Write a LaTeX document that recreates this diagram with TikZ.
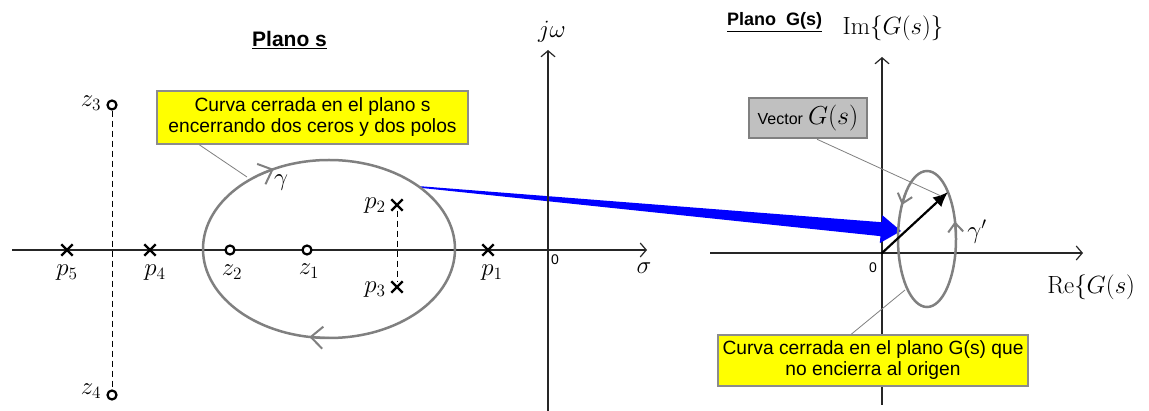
\RequirePackage{fix-cm}
\documentclass[tikz,border=0pt]{standalone}
\usepackage{fontspec}
\newfontfamily\arialf{Liberation Sans}
\usetikzlibrary{arrows.meta,calc,shapes.misc}
\definecolor{curvegray}{RGB}{128,128,128}
\definecolor{boxyellow}{RGB}{255,255,0}
\definecolor{boxborder}{RGB}{140,140,140}
\definecolor{vecgray}{RGB}{192,192,192}
\definecolor{arrowblue}{RGB}{0,0,255}
\tikzset{
  axisline/.style={line width=1.2pt, black!85, -{Straight Barb[length=6pt,width=14pt,line width=1.2pt]}},
  polemark/.style={cross out, draw=black, line width=2.4pt, minimum size=9pt, inner sep=0pt},
  zeromark/.style={circle, draw=black, line width=2.2pt, minimum size=9pt, inner sep=0pt},
  mlbl/.style={font=\fontsize{20.74}{24}\selectfont, inner sep=0pt, scale=1.2},
  zerolbl/.style={font=\arialf\fontsize{14}{16}\selectfont, inner sep=0pt},
  callout/.style={draw=boxborder, fill=boxyellow, line width=1.5pt, align=center,
    font=\arialf\fontsize{19.2}{21}\selectfont, inner sep=1pt},
  ptrline/.style={curvegray, line width=0.8pt},
  curve/.style={curvegray, line width=2.5pt},
  bigbarb/.style={curvegray, line width=2pt, -{Straight Barb[length=12pt,width=22pt,line width=2pt]}},
  smallbarb/.style={curvegray, line width=2pt, -{Straight Barb[length=9pt,width=15pt,line width=2pt]}},
  dashline/.style={black, line width=1pt, dash pattern=on 6pt off 4pt},
  titlefont/.style={font=\arialf\bfseries\fontsize{21}{24}\selectfont, inner sep=0pt},
  titlefontb/.style={font=\arialf\bfseries\fontsize{18}{22}\selectfont, inner sep=0pt}
}
\begin{document}
\begin{tikzpicture}[x=1pt,y=-1pt]
\useasboundingbox (0,0) rectangle (1149,411);
\fill[white] (0,0) rectangle (1149,411);

% ---------- s-plane axes ----------
\coordinate (sL) at (12,250);
\coordinate (sR) at (647,250);
\coordinate (jB) at (548,411);
\coordinate (jT) at (548,50);
\draw[axisline] (sL) -- (sR);

% ---------- G-plane axes ----------
\coordinate (gL) at (710,253);
\coordinate (gR) at (1083,253);
\coordinate (gB) at (882,405);
\coordinate (gT) at (882,57);
\coordinate (O2) at (882,253);
\draw[axisline] (gL) -- (gR);
\draw[axisline] (gB) -- (gT);

% ---------- blue tapered mapping arrow ----------
\coordinate (bA) at (420,187);
\coordinate (bB) at (901,231);
\coordinate (bH) at ($(bB)!20pt!(bA)$);
\fill[arrowblue] ($(bA)!0.8pt!90:(bB)$) -- ($(bH)!7pt!90:(bB)$) -- ($(bH)!14pt!90:(bB)$) -- (bB)
  -- ($(bH)!14pt!-90:(bB)$) -- ($(bH)!7pt!-90:(bB)$) -- ($(bA)!0.8pt!-90:(bB)$) -- cycle;

\draw[axisline] (jB) -- (jT);

% ---------- titles ----------
\node[titlefont, anchor=base] (ts) at (289.5,47) {\underline{Plano s}};
\node[titlefontb, anchor=base] (tg) at (774.5,26) {\underline{Plano\ \ G(s)}};

% ---------- axis labels ----------
\node[mlbl] (jw) at (552,32) {$j\omega$};
\node[mlbl] (sig) at (644,268) {$\sigma$};
\node[zerolbl] (o1) at (555,260) {0};
\node[zerolbl] (o2) at (873,268) {0};
\node[mlbl] (im) at (893,28) {$\mathrm{Im}\bigl\{G(s)\bigr\}$};
\node[mlbl, anchor=west] (re) at (1047,287) {$\mathrm{Re}\bigl\{G(s)$};

% ---------- closed curve in s-plane ----------
\coordinate (E1) at (329,249);
\draw[curve] (E1) ellipse [x radius=126, y radius=89];
\coordinate (ta1) at ($(E1)+({126*cos(236)},{89*sin(236)})$);
\coordinate (ta2) at ($(E1)+({126*cos(244)},{89*sin(244)})$);
\coordinate (tb1) at ($(E1)+({126*cos(90)},{89*sin(90)})$);
\coordinate (tb2) at ($(E1)+({126*cos(99)},{89*sin(99)})$);
\draw[bigbarb] (ta1) -- (ta2);
\draw[bigbarb] (tb1) -- (tb2);
\node[mlbl] (gam) at (281,183) {$\gamma$};

% ---------- poles and zeros ----------
\node[zeromark] (z3) at (112,105) {};
\node[zeromark] (z4) at (112,395) {};
\draw[dashline] (z3) -- (z4);
\node[polemark] (p5) at (67,250) {};
\node[polemark] (p4) at (150,250) {};
\node[zeromark, fill=white] (z2) at (230,250) {};
\node[zeromark, fill=white] (z1) at (307,250) {};
\node[polemark] (p2) at (397,205) {};
\node[polemark] (p3) at (397,287) {};
\draw[dashline] (p2) -- (p3);
\node[polemark] (p1) at (488,250) {};

\node[mlbl] (lz3) at (91,103) {$z_3$};
\node[mlbl] (lz4) at (91,391) {$z_4$};
\node[mlbl] (lp5) at (67,273) {$p_5$};
\node[mlbl] (lp4) at (155,273) {$p_4$};
\node[mlbl] (lz2) at (232,272) {$z_2$};
\node[mlbl] (lz1) at (309,271) {$z_1$};
\node[mlbl] (lp2) at (375,206) {$p_2$};
\node[mlbl] (lp3) at (375,290) {$p_3$};
\node[mlbl] (lp1) at (492,273) {$p_1$};

% ---------- closed curve in G-plane ----------
\coordinate (E2) at (927,239);
\draw[curve] (E2) ellipse [x radius=29, y radius=68];
\coordinate (tc1) at ($(E2)+({29*cos(222)},{68*sin(222)})$);
\coordinate (tc2) at ($(E2)+({29*cos(210)},{68*sin(210)})$);
\coordinate (td1) at ($(E2)+({29*cos(357)},{68*sin(357)})$);
\coordinate (td2) at ($(E2)+({29*cos(345)},{68*sin(345)})$);
\draw[smallbarb] (tc1) -- (tc2);
\draw[smallbarb] (td1) -- (td2);
\node[mlbl] (gamp) at (977,232) {$\gamma'$};

% ---------- vector G(s) ----------
\coordinate (vt) at (948,192);
\fill[black] (O2) circle (1.5pt);
\draw[black, line width=2.2pt, -{Latex[length=15pt,width=13pt]}] (O2) -- (vt);

% ---------- callouts ----------
\node[callout, minimum width=311pt, minimum height=53pt] (c1) at (312.5,117.5)
  {Curva cerrada en el plano s\\encerrando dos ceros y dos polos};
\coordinate (pt1) at (247,177);
\draw[ptrline] ([xshift=43pt]c1.south west) -- (pt1);

\node[callout, minimum width=310pt, minimum height=51pt] (c2) at (873,360.5)
  {Curva cerrada en el plano G(s) que\\no encierra al origen};
\coordinate (pt2) at (905,290);
\draw[ptrline] ([xshift=134pt]c2.north west) -- (pt2);

\node[draw=curvegray, fill=vecgray, line width=2.5pt, minimum width=118pt, minimum height=40pt, inner sep=1pt] (vb) at (808,118)
  {{\arialf\fontsize{16}{18}\selectfont Vector}\hspace{5pt}\scalebox{1.25}{\fontsize{20.74}{24}\selectfont$G(s)$}};
\coordinate (pt3) at (941,196);
\draw[ptrline] ([xshift=9pt]vb.south) -- (pt3);
\end{tikzpicture}
\end{document}
